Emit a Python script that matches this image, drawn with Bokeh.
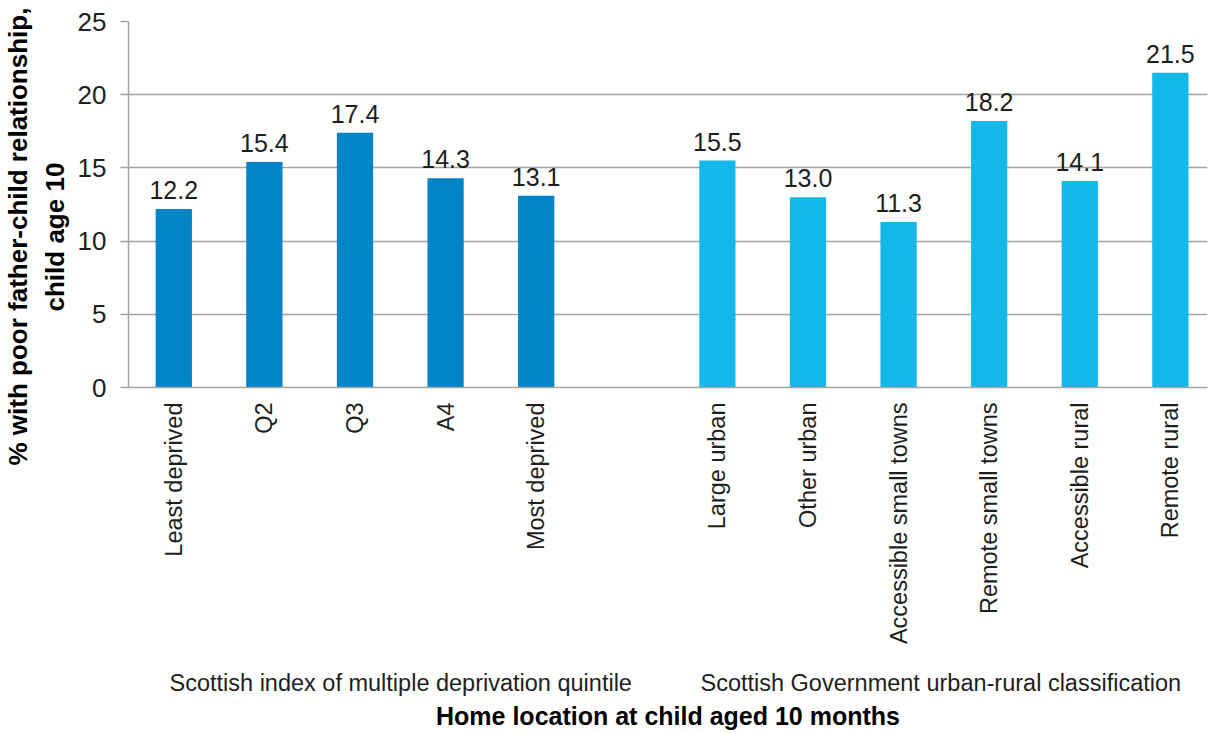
import math
from bokeh.plotting import figure
from bokeh.models import ColumnDataSource, FixedTicker, Range1d, LinearAxis, Title
from bokeh.core.properties import value
from bokeh.embed import file_html
from bokeh.resources import INLINE

# ---- data ----
simd_labels = ["Least deprived", "Q2", "Q3", "A4", "Most deprived"]
simd_values = [12.2, 15.4, 17.4, 14.3, 13.1]
urban_labels = ["Large urban", "Other urban", "Accessible small towns",
                "Remote small towns", "Accessible rural", "Remote rural"]
urban_values = [15.5, 13.0, 11.3, 18.2, 14.1, 21.5]
group_labels = ["Scottish index of multiple deprivation quintile",
                "Scottish Government urban-rural classification"]
y_ticks = [0, 5, 10, 15, 20, 25]
y_title_lines = ["% with poor father-child relationship,", "child age 10"]
x_title = "Home location at child aged 10 months"

FONT = "Liberation Sans"
TXT = "#1e1e1e"
GRID = "#a3a3a3"

simd_x = list(range(len(simd_values)))
urban_x = [len(simd_values) + 1 + i for i in range(len(urban_values))]
group_pos = [2.505, 8.466]  # label centres (layout)

src_a = ColumnDataSource(dict(x=simd_x, top=simd_values,
                              lab=[f"{v:.1f}" for v in simd_values]))
src_b = ColumnDataSource(dict(x=urban_x, top=urban_values,
                              lab=[f"{v:.1f}" for v in urban_values]))

p = figure(width=1210, height=732, output_backend="svg", toolbar_location=None,
           x_range=Range1d(-0.5, 11.41), y_range=Range1d(0, 25),
           min_border_left=128, min_border_right=3, min_border_top=21,
           min_border_bottom=340)
p.outline_line_color = None

p.vbar(x="x", top="top", bottom=0, width=0.4, source=src_a,
       fill_color="#0083C7", line_color=None)
p.vbar(x="x", top="top", bottom=0, width=0.4, source=src_b,
       fill_color="#13B8EB", line_color=None)

for src in (src_a, src_b):
    p.text(x="x", y="top", text="lab", source=src, text_align="center",
           text_baseline="alphabetic", y_offset=-19,
           text_font=value(FONT), text_font_size="25px", text_color=TXT)

# y axis
p.yaxis.ticker = FixedTicker(ticks=y_ticks)
p.yaxis.minor_tick_line_color = None
p.yaxis.major_tick_in = 0
p.yaxis.major_tick_out = 8
p.yaxis.major_tick_line_color = GRID
p.yaxis.major_tick_line_width = 1.5
p.yaxis.axis_line_color = GRID
p.yaxis.axis_line_width = 1.5
p.yaxis.major_label_text_font = FONT
p.yaxis.major_label_text_font_size = "26px"
p.yaxis.major_label_text_color = TXT
p.yaxis.major_label_standoff = 14

p.ygrid.ticker = FixedTicker(ticks=y_ticks)
p.ygrid.grid_line_color = GRID
p.ygrid.grid_line_width = 1.5
p.xgrid.grid_line_color = None

# x axis (category labels)
all_x = simd_x + urban_x
all_labels = simd_labels + urban_labels
p.xaxis.ticker = FixedTicker(ticks=all_x)
p.xaxis.major_label_overrides = {x: l for x, l in zip(all_x, all_labels)}
p.xaxis.major_label_orientation = math.pi / 2
p.xaxis.major_tick_in = 0
p.xaxis.major_tick_out = 0
p.xaxis.minor_tick_line_color = None
p.xaxis.major_tick_line_color = None
p.xaxis.axis_line_color = GRID
p.xaxis.axis_line_width = 1.5
p.xaxis.major_label_standoff = 15
p.xaxis.major_label_text_font = FONT
p.xaxis.major_label_text_font_size = "23.5px"
p.xaxis.major_label_text_color = TXT

# group label axis + bold x title
gax = LinearAxis(ticker=FixedTicker(ticks=group_pos),
                 major_label_overrides={g: t for g, t in zip(group_pos, group_labels)})
gax.major_tick_in = 0
gax.major_tick_out = 0
gax.major_tick_line_color = None
gax.minor_tick_line_color = None
gax.axis_line_color = None
gax.major_label_standoff = 22
gax.major_label_text_font = FONT
gax.major_label_text_font_size = "23.5px"
gax.major_label_text_color = TXT
gax.axis_label = x_title
gax.axis_label_standoff = 3
gax.axis_label_text_font = FONT
gax.axis_label_text_font_size = "25px"
gax.axis_label_text_font_style = "bold"
gax.axis_label_text_color = "black"
p.add_layout(gax, "below")

# y title: two lines, nearest the axis first; anchored at the frame bottom
# and shifted so both lines are centred at the same height
title_offsets = [-78, 76]
title_standoffs = [0, 10]
for line, off, st in reversed(list(zip(y_title_lines, title_offsets, title_standoffs))):
    p.add_layout(Title(text=line, align="left", offset=off, standoff=st,
                       text_font=FONT, text_font_size="26px",
                       text_font_style="bold", text_color="black"), "left")

open("out.html", "w").write(file_html(p, INLINE))
